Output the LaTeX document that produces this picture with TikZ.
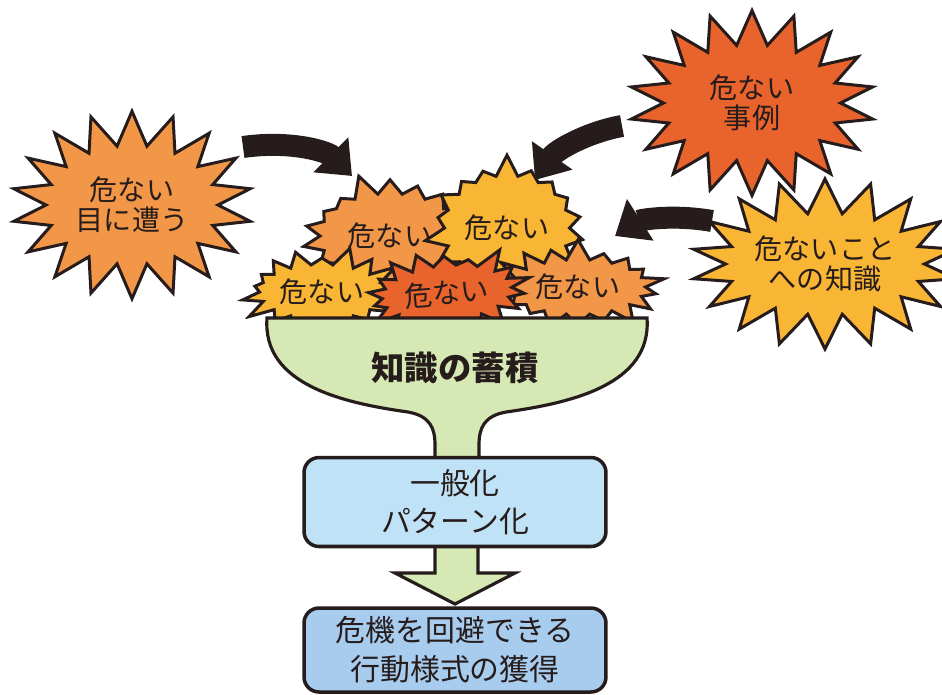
\documentclass[tikz,border=0pt]{standalone}
\usepackage{fontspec}
\newfontfamily\jp{Noto Sans CJK JP}
\usetikzlibrary{shapes.symbols,arrows.meta}
\definecolor{burstorange}{RGB}{242,150,72}
\definecolor{burstred}{RGB}{232,100,44}
\definecolor{burstyellow}{RGB}{249,182,52}
\definecolor{funnelgreen}{RGB}{214,232,180}
\definecolor{boxblue}{RGB}{192,226,246}
\definecolor{boxdeepblue}{RGB}{168,204,238}
\definecolor{inkdark}{RGB}{38,28,28}
\begin{document}
\begin{tikzpicture}[x=0.02cm,y=-0.02cm,
 burst/.style={starburst,draw=inkdark,line width=1.7pt,starburst points=18,
  starburst point height=0.68cm,random starburst=0,inner sep=0pt,align=center,text=inkdark,
  font=\jp\fontsize{16}{17}\selectfont},
 smallburst/.style={burst,starburst points=18,starburst point height=0.45cm},
 flowbox/.style={draw=inkdark,line width=2pt,rounded corners=0.3cm,minimum width=6.04cm,
  align=center,text=inkdark,font=\jp\fontsize{17}{22}\selectfont},
 bigarrow/.style={draw=inkdark,line width=0.44cm,-{Triangle[length=0.6cm,width=0.95cm]}}]
\useasboundingbox (0,0) rectangle (942,694);

\node [burst,fill=burstorange,minimum width=4.8cm,minimum height=3.75cm]
 (hitleft) at (132,205) {危ない\\目に遭う};
\node [burst,fill=burstred,minimum width=4.9cm,minimum height=3.7cm,shape border rotate=6]
 (casetop) at (752,103) {危ない\\事例};
\node [burst,fill=burstyellow,minimum width=5.0cm,minimum height=3.4cm,shape border rotate=4]
 (knowright) at (825,264) {危ないこと\\への知識};

\begin{scope}
 \clip (230,140) rectangle (690,318);
 \node [smallburst,fill=burstorange,minimum width=3.7cm,minimum height=2.6cm,random starburst=5]
  (dangertl) at (390,236) {危ない};
 \node [smallburst,fill=burstyellow,minimum width=3.4cm,minimum height=3.0cm,random starburst=7]
  (dangertr) at (507,228) {危ない};
 \node [smallburst,fill=burstyellow,minimum width=3.4cm,minimum height=2.0cm,random starburst=13]
  (dangerbl) at (322,292) {危ない};
 \node [smallburst,fill=burstorange,minimum width=3.6cm,minimum height=2.0cm,random starburst=17]
  (dangerbr) at (578,287) {危ない};
 \node [smallburst,fill=burstred,minimum width=3.5cm,minimum height=2.0cm,random starburst=19,rotate=5]
  (dangerbm) at (447,293) {危ない};
\end{scope}

\draw [fill=funnelgreen,draw=inkdark,line width=1.8pt] (267,318) -- (647,318)
 .. controls (652,385) and (570,403) .. (506,412)
 .. controls (484,416) and (479,428) .. (479,445) -- (479,470) -- (435,470) -- (435,445)
 .. controls (435,428) and (430,416) .. (408,412)
 .. controls (344,403) and (262,385) .. (267,318) -- cycle;
\node [text=inkdark,font=\jp\bfseries\fontsize{19}{22}\selectfont] (store) at (455,368) {知識の蓄積};

\draw [fill=funnelgreen,draw=inkdark,line width=1.8pt] (435,530) -- (435,573) -- (395,573)
 -- (455,604) -- (515,573) -- (478,573) -- (478,530) -- cycle;

\node [flowbox,fill=boxblue,minimum height=1.78cm] (general) at (455,502) {一般化\\パターン化};
\node [flowbox,fill=boxdeepblue,minimum height=1.68cm] (behave) at (455,650) {危機を回避できる\\行動様式の獲得};

\coordinate (hittail) at (243,147); \coordinate (hittip) at (352,176);
\coordinate (casetail) at (622,126); \coordinate (casetip) at (535,180);
\coordinate (knowtail) at (712,221); \coordinate (knowtip) at (615,236);
\draw [bigarrow] (hittail) .. controls (292,140) and (328,152) .. (hittip);
\draw [bigarrow] (casetail) .. controls (588,132) and (556,150) .. (casetip);
\draw [bigarrow] (knowtail) .. controls (672,214) and (640,220) .. (knowtip);
\end{tikzpicture}
\end{document}
